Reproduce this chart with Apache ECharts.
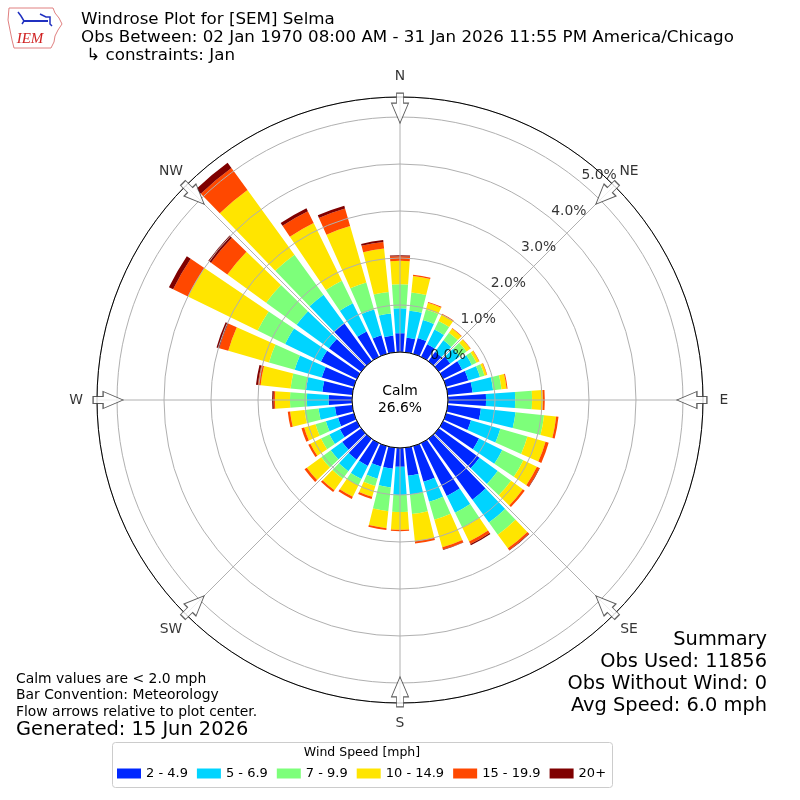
<!DOCTYPE html>
<html>
<head>
<meta charset="utf-8">
<script src="https://cdn.jsdelivr.net/npm/echarts@6/dist/echarts.min.js"></script>
<style>
html,body{margin:0;padding:0;background:#fff;}
#chart{width:800px;height:800px;}
</style>
</head>
<body>
<div id="chart"></div>
<script>
// ---- data ----
const directions = [0,10,20,30,40,50,60,70,80,90,100,110,120,130,140,150,160,170,180,190,200,210,220,230,240,250,260,270,280,290,300,310,320,330,340,350];
const speedBins = ['2 - 4.9','5 - 6.9','7 - 9.9','10 - 14.9','15 - 19.9','20+'];
const binColors = ['#0028ff','#00d4ff','#7dff7a','#ffe500','#ff4800','#7f0000'];
// percent of observations per direction, per speed bin
const bin2to5   = [0.40,0.31,0.35,0.30,0.25,0.30,0.45,0.49,0.53,0.81,0.71,0.55,0.85,1.07,1.60,1.25,0.79,0.60,0.40,0.45,0.45,0.54,0.55,0.50,0.40,0.35,0.37,0.50,0.64,0.71,0.85,0.85,0.99,0.60,0.41,0.36];
const bin5to7   = [0.53,0.58,0.40,0.35,0.30,0.25,0.23,0.26,0.44,0.62,0.74,0.65,0.55,0.48,0.60,0.40,0.44,0.40,0.60,0.40,0.27,0.31,0.30,0.30,0.25,0.27,0.35,0.46,0.35,0.60,0.85,0.85,0.76,0.67,0.57,0.47];
const bin7to10  = [0.51,0.39,0.23,0.20,0.20,0.18,0.11,0.10,0.18,0.36,0.61,0.60,0.50,0.35,0.32,0.35,0.40,0.42,0.36,0.51,0.16,0.15,0.20,0.25,0.20,0.23,0.30,0.36,0.33,0.57,0.65,0.80,1.05,0.53,0.60,0.46];
const bin10to15 = [0.50,0.35,0.15,0.15,0.11,0.10,0.06,0.05,0.11,0.23,0.26,0.40,0.32,0.31,0.36,0.33,0.61,0.58,0.38,0.36,0.24,0.27,0.30,0.38,0.25,0.25,0.31,0.32,0.64,0.90,1.65,1.02,1.70,1.37,1.25,0.93];
const bin15to20 = [0.10,0.03,0.02,0.02,0.01,0.01,0.01,0.01,0.02,0.04,0.05,0.07,0.06,0.05,0.05,0.06,0.05,0.05,0.03,0.04,0.05,0.05,0.05,0.06,0.05,0.06,0.05,0.03,0.06,0.20,0.35,0.43,0.58,0.28,0.39,0.14];
const bin20plus = [0.02,0.00,0.00,0.00,0.00,0.00,0.00,0.00,0.00,0.00,0.00,0.00,0.01,0.00,0.01,0.03,0.01,0.00,0.00,0.00,0.00,0.00,0.00,0.00,0.00,0.00,0.00,0.03,0.04,0.06,0.10,0.07,0.14,0.07,0.06,0.04];
const radiusTicks = [0,1,2,3,4,5];
const compassAngles = [0,45,90,135,180,225,270,315];
const compassNames = ['N','NE','E','SE','S','SW','W','NW'];
const calmPct = '26.6%';
const titleLines = ['Windrose Plot for [SEM] Selma','Obs Between: 02 Jan 1970 08:00 AM - 31 Jan 2026 11:55 PM America/Chicago',' \u21b3 constraints: Jan'];
const noteLines = ['Calm values are < 2.0 mph','Bar Convention: Meteorology','Flow arrows relative to plot center.'];
const generated = 'Generated: 15 Jun 2026';
const summaryLines = ['Summary','Obs Used: 11856','Obs Without Wind: 0','Avg Speed: 6.0 mph'];

const binData = [bin2to5,bin5to7,bin7to10,bin10to15,bin15to20,bin20plus];
const RMAX = 5.426;
const FONT = 'DejaVu Sans';

const chart = echarts.init(document.getElementById('chart'), null, {renderer:'canvas'});

const barSeries = speedBins.map((name,i)=>({
  name, type:'bar', coordinateSystem:'polar', polarIndex:0, stack:'wind',
  data: binData[i], barCategoryGap:'20%',
  itemStyle:{color:binColors[i]}, silent:true, z:2
}));

const arrowPath = 'path://M5,0 L12,0 L12,10 L17,10 L8.5,30 L0,10 L5,10 Z';

const graphics = [];
titleLines.forEach((t,i)=>graphics.push({type:'text',x:81,y:20+i*18,z:10,style:{text:t,font:'16.7px "DejaVu Sans"',fill:'#000',align:'left',verticalAlign:'middle'}}));
noteLines.forEach((t,i)=>graphics.push({type:'text',x:16,y:679+i*16.5,z:10,style:{text:t,font:'13.9px "DejaVu Sans"',fill:'#000',align:'left',verticalAlign:'middle'}}));
graphics.push({type:'text',x:16,y:730,z:10,style:{text:generated,font:'19.4px "DejaVu Sans"',fill:'#000',align:'left',verticalAlign:'middle'}});
summaryLines.forEach((t,i)=>graphics.push({type:'text',x:767,y:640+i*22,z:10,style:{text:t,font:'19.4px "DejaVu Sans"',fill:'#000',align:'right',verticalAlign:'middle'}}));
graphics.push({type:'text',x:400,y:391,z:10,style:{text:'Calm',font:'13.9px "DejaVu Sans"',fill:'#000',align:'center',verticalAlign:'middle'}});
graphics.push({type:'text',x:400,y:408,z:10,style:{text:calmPct,font:'13.9px "DejaVu Sans"',fill:'#000',align:'center',verticalAlign:'middle'}});
// legend box + title
graphics.push({type:'rect',z:0,shape:{x:112.5,y:742.5,width:500,height:45,r:3},style:{fill:'#fff',stroke:'#cccccc',lineWidth:1}});
graphics.push({type:'text',x:362,y:753,z:10,style:{text:'Wind Speed [mph]',font:'12.5px "DejaVu Sans"',fill:'#000',align:'center',verticalAlign:'middle'}});
// IEM logo (approximation)
graphics.push({type:'polyline',z:10,shape:{points:[[9,8],[53,8],[55,13],[59,18],[62,24],[58,30],[55,36],[54,42],[51,48],[14,48],[12,40],[10,30],[8,20],[9,8]]},style:{stroke:'#e08080',fill:'none',lineWidth:1}});
graphics.push({type:'polyline',z:10,shape:{points:[[24,21],[48,21]]},style:{stroke:'#2030c0',lineWidth:2}});
graphics.push({type:'polyline',z:10,shape:{points:[[18,12],[21,16],[24,21],[22,24]]},style:{stroke:'#2030c0',fill:'none',lineWidth:1.5}});
graphics.push({type:'polyline',z:10,shape:{points:[[40,14],[46,17],[50,17],[50,24],[52,26]]},style:{stroke:'#2030c0',fill:'none',lineWidth:1.5}});
graphics.push({type:'text',x:30,y:39,z:10,style:{text:'IEM',font:'italic 15px "Liberation Serif"',fill:'#d02020',align:'center',verticalAlign:'middle'}});

const option = {
  backgroundColor:'#fff',
  animation:false,
  textStyle:{fontFamily:FONT},
  polar:[
    {center:[400,400], radius:[48,303]},
    {center:[400,400], radius:[48,303]}
  ],
  angleAxis:[
    {polarIndex:0, type:'category', data:directions, startAngle:95, clockwise:true,
     axisLine:{show:false}, axisTick:{show:false}, axisLabel:{show:false}, splitLine:{show:false}},
    {polarIndex:1, type:'value', min:0, max:360, interval:45, startAngle:90, clockwise:true, z:3,
     axisLine:{show:true, lineStyle:{color:'#000', width:1}},
     axisTick:{show:false},
     splitLine:{show:true, lineStyle:{color:'#b0b0b0', width:1}},
     axisLabel:{show:false}}
  ],
  radiusAxis:[
    {polarIndex:0, type:'value', min:0, max:RMAX,
     axisLine:{show:false}, axisTick:{show:false}, axisLabel:{show:false}, splitLine:{show:false}},
    {polarIndex:1, type:'value', min:0, max:RMAX, interval:1, z:3,
     axisLine:{show:false}, axisTick:{show:false}, axisLabel:{show:false},
     splitLine:{show:true, lineStyle:{color:'#b0b0b0', width:1}}}
  ],
  legend:{
    data:speedBins, left:112, top:762, orient:'horizontal',
    itemWidth:24, itemHeight:10, itemGap:9, icon:'rect',
    textStyle:{fontSize:13, color:'#000', fontFamily:FONT},
    selectedMode:false
  },
  graphic: graphics,
  series:[
    ...barSeries,
    {type:'scatter', coordinateSystem:'polar', polarIndex:1, silent:true, z:5, clip:false,
     data: compassAngles.map(a=>[5.19,a]),
     symbol: arrowPath, symbolSize:[17,30], symbolKeepAspect:false,
     symbolRotate:(v)=>-v[1],
     itemStyle:{color:'#fff', borderColor:'#333', borderWidth:1}},
    {type:'scatter', coordinateSystem:'polar', polarIndex:1, silent:true, z:6, clip:false,
     data: compassAngles.map(a=>[5.87,a]),
     symbolSize:1, itemStyle:{color:'rgba(0,0,0,0)'},
     label:{show:true, position:'inside', align:'center', verticalAlign:'middle',
       fontSize:13.9, color:'#000', fontFamily:FONT,
       formatter:(p)=>compassNames[compassAngles.indexOf(p.value[1])]}},
    {type:'scatter', coordinateSystem:'polar', polarIndex:1, silent:true, z:6,
     data: radiusTicks.map(r=>[r,40]),
     symbolSize:1, itemStyle:{color:'rgba(0,0,0,0)'},
     label:{show:true, position:[0,0], align:'left', verticalAlign:'bottom',
       fontSize:13.9, color:'#000', fontFamily:FONT,
       formatter:(p)=>p.value[0].toFixed(1)+'%'}}
  ]
};
chart.setOption(option);
</script>
</body>
</html>
